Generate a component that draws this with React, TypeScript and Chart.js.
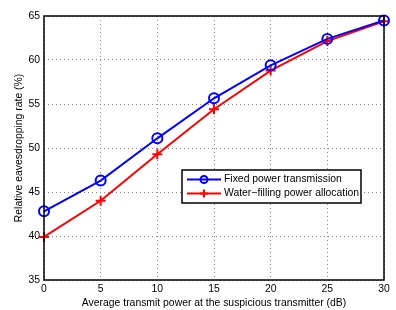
import React, { useEffect, useRef } from "react";
import { Chart, registerables } from "chart.js";

Chart.register(...registerables);

const powerDb = [0, 5, 10, 15, 20, 25, 30];
const fixedPower = [42.8, 46.3, 51.1, 55.65, 59.4, 62.4, 64.5];
const waterFilling = [39.9, 44.0, 49.3, 54.4, 58.8, 62.15, 64.4];
const yTicks = [35, 40, 45, 50, 55, 60, 65];
const seriesNames = ["Fixed power transmission", "Water\u2212filling power allocation"];

const FONT = "'Liberation Sans', Arial, Helvetica, sans-serif";
const FS = 10.4;

const frameAndLegend = {
  id: "frameAndLegend",
  afterDatasetsDraw(chart: any) {
    const { ctx, chartArea } = chart;
    const { left, right, top, bottom } = chartArea;
    ctx.save();
    ctx.strokeStyle = "#000";
    ctx.lineWidth = 1.5;
    ctx.strokeRect(left, top, right - left, bottom - top);

    // legend box
    const lx = 182, ly = 170, lw = 179, lh = 33;
    ctx.fillStyle = "#fff";
    ctx.fillRect(lx, ly, lw, lh);
    ctx.lineWidth = 1.5;
    ctx.strokeRect(lx, ly, lw, lh);
    ctx.font = FS + "px " + FONT;
    ctx.textBaseline = "middle";
    chart.data.datasets.forEach((ds: any, i: number) => {
      const cy = ly + 9.5 + i * 14;
      ctx.strokeStyle = ds.borderColor;
      ctx.lineWidth = 2;
      ctx.beginPath();
      ctx.moveTo(187, cy);
      ctx.lineTo(221, cy);
      ctx.stroke();
      const cx = 204;
      ctx.beginPath();
      if (ds.pointStyle === "circle") {
        ctx.arc(cx, cy, 3.5, 0, Math.PI * 2);
      } else {
        ctx.moveTo(cx - 4, cy);
        ctx.lineTo(cx + 4, cy);
        ctx.moveTo(cx, cy - 4);
        ctx.lineTo(cx, cy + 4);
      }
      ctx.stroke();
      ctx.fillStyle = "#000";
      ctx.fillText(ds.label, 224, cy);
    });
    ctx.restore();
  },
};

export default function App() {
  const ref = useRef<HTMLCanvasElement | null>(null);
  useEffect(() => {
    if (!ref.current) return;
    const chart = new Chart(ref.current, {
      type: "line",
      data: {
        labels: powerDb,
        datasets: [
          {
            label: seriesNames[0],
            data: powerDb.map((x, i) => ({ x, y: fixedPower[i] })),
            borderColor: "#0000ff",
            backgroundColor: "rgba(0,0,0,0)",
            borderWidth: 2,
            pointStyle: "circle",
            pointRadius: 5,
            pointBorderWidth: 2,
            pointBorderColor: "#0000ff",
            pointBackgroundColor: "rgba(0,0,0,0)",
            clip: false as any,
            tension: 0,
          },
          {
            label: seriesNames[1],
            data: powerDb.map((x, i) => ({ x, y: waterFilling[i] })),
            borderColor: "#ff0000",
            backgroundColor: "rgba(0,0,0,0)",
            borderWidth: 2,
            pointStyle: "cross",
            pointRadius: 5,
            pointBorderWidth: 2,
            pointBorderColor: "#ff0000",
            clip: false as any,
            tension: 0,
          },
        ],
      },
      options: {
        animation: false,
        responsive: false,
        devicePixelRatio: 1,
        layout: { padding: { top: 16, right: 12, left: 0, bottom: 0 } },
        plugins: { legend: { display: false }, tooltip: { enabled: false } },
        scales: {
          x: {
            type: "linear",
            min: 0,
            max: 30,
            afterBuildTicks: (s: any) => {
              s.ticks = powerDb.map((v) => ({ value: v }));
            },
            afterFit: (s: any) => {
              s.height = 30;
            },
            grid: { color: "#888", lineWidth: 1, drawTicks: false },
            border: { display: false, dash: [1, 3] },
            ticks: {
              color: "#000",
              font: { family: FONT, size: FS },
              padding: 3,
              maxRotation: 0,
            },
            title: {
              display: true,
              text: "Average transmit power at the suspicious transmitter (dB)",
              color: "#000",
              font: { family: FONT, size: FS },
              padding: { top: 0, bottom: 1 },
            },
          },
          y: {
            type: "linear",
            min: 35,
            max: 65,
            afterBuildTicks: (s: any) => {
              s.ticks = yTicks.map((v) => ({ value: v }));
            },
            afterFit: (s: any) => {
              s.width = 44;
            },
            grid: { color: "#888", lineWidth: 1, drawTicks: false },
            border: { display: false, dash: [1, 3] },
            ticks: {
              color: "#000",
              font: { family: FONT, size: FS },
              padding: 4,
            },
            title: {
              display: true,
              text: "Relative eavesdropping rate (%)",
              color: "#000",
              font: { family: FONT, size: FS },
              padding: { top: 13, bottom: 0 },
            },
          },
        },
      },
      plugins: [frameAndLegend],
    } as any);
    return () => chart.destroy();
  }, []);
  return (
    <div style={{ position: "fixed", left: 0, top: 0, width: 396, height: 310, background: "#fff" }}>
      <canvas ref={ref} width={396} height={310} style={{ width: 396, height: 310 }} />
    </div>
  );
}
